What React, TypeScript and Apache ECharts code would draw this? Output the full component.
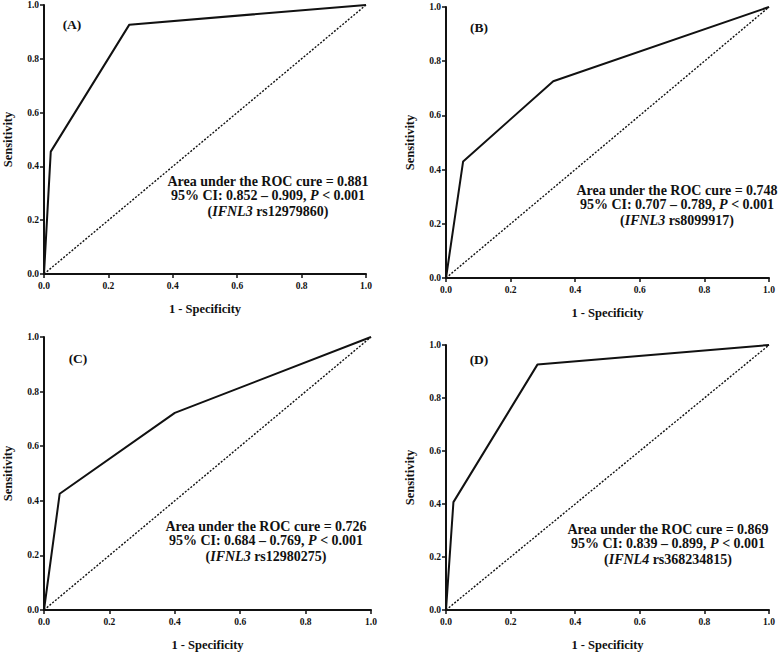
import React, { useEffect, useRef } from "react";
import * as echarts from "echarts";

const xTicks = [0, 0.2, 0.4, 0.6, 0.8, 1.0];
const panelLabels = ["(A)", "(B)", "(C)", "(D)"];
const rocA = [[0, 0], [0.021, 0.455], [0.265, 0.927], [1, 1]];
const rocB = [[0, 0], [0.053, 0.43], [0.332, 0.726], [1, 1]];
const rocC = [[0, 0], [0.048, 0.426], [0.4, 0.722], [1, 1]];
const rocD = [[0, 0], [0.023, 0.407], [0.283, 0.926], [1, 1]];
const diagonal = [[0, 0], [1, 1]];
const aucLines = [
  "Area under the ROC cure = 0.881",
  "Area under the ROC cure = 0.748",
  "Area under the ROC cure = 0.726",
  "Area under the ROC cure = 0.869",
];
const ciLines = [
  ["95% CI: 0.852 – 0.909, ", "P", " < 0.001"],
  ["95% CI: 0.707 – 0.789, ", "P", " < 0.001"],
  ["95% CI: 0.684 – 0.769, ", "P", " < 0.001"],
  ["95% CI: 0.839 – 0.899, ", "P", " < 0.001"],
];
const geneLines = [
  ["IFNL3", " rs12979860"],
  ["IFNL3", " rs8099917"],
  ["IFNL3", " rs12980275"],
  ["IFNL4", " rs368234815"],
];
const xName = "1 - Specificity";
const yName = "Sensitivity";

const FONT = "'Liberation Serif', 'DejaVu Serif', serif";

const grids = [
  { left: 43, top: 3, width: 323, height: 271 },
  { left: 446, top: 7, width: 323, height: 271 },
  { left: 44, top: 337, width: 327, height: 274 },
  { left: 446, top: 345, width: 323, height: 270 },
];
const labelPos = [
  [72, 24],
  [479, 27],
  [78, 358],
  [479, 359],
];
const annPos = [
  [268, 181],
  [677, 190],
  [266, 526],
  [668, 529],
];

export default function App() {
  const ref = useRef<HTMLDivElement>(null);
  useEffect(() => {
    if (!ref.current) return;
    const chart = echarts.init(ref.current, null, { renderer: "svg" });
    const rocs = [rocA, rocB, rocC, rocD];
    const xAxis: any[] = [];
    const yAxis: any[] = [];
    const series: any[] = [];
    const graphic: any[] = [];
    const axisCommon = {
      type: "value",
      min: 0,
      max: 1,
      interval: 0.2,
      splitLine: { show: false },
      axisLine: { show: true, onZero: false, lineStyle: { color: "#111", width: 2 } },
      axisTick: { show: true, inside: false, length: 4, lineStyle: { color: "#111", width: 1.5 } },
      axisLabel: {
        color: "#111",
        fontFamily: FONT,
        fontWeight: "bold",
        fontSize: 9.5,
        formatter: (v: number) => v.toFixed(1),
      },
      nameLocation: "middle",
      nameTextStyle: { color: "#111", fontFamily: FONT, fontWeight: "bold", fontSize: 12.5 },
    };
    grids.forEach((g, i) => {
      xAxis.push({
        ...axisCommon,
        gridIndex: i,
        name: xName,
        nameGap: 28,
        axisLabel: { ...axisCommon.axisLabel, margin: 7, customValues: xTicks },
      });
      yAxis.push({
        ...axisCommon,
        gridIndex: i,
        name: yName,
        nameGap: 30,
        axisLabel: { ...axisCommon.axisLabel, margin: 5 },
      });
      series.push({
        type: "line",
        xAxisIndex: i,
        yAxisIndex: i,
        data: diagonal,
        showSymbol: false,
        lineStyle: { color: "#111", width: 1.4, type: [2, 1.6] },
        z: 2,
      });
      series.push({
        type: "line",
        xAxisIndex: i,
        yAxisIndex: i,
        data: rocs[i],
        showSymbol: false,
        lineStyle: { color: "#111", width: 2 },
        z: 3,
      });
      graphic.push({
        type: "text",
        x: labelPos[i][0],
        y: labelPos[i][1],
        style: {
          text: panelLabels[i],
          fontFamily: FONT,
          fontWeight: "bold",
          fontSize: 13.5,
          fill: "#111",
          align: "center",
          verticalAlign: "middle",
        },
      });
      const [ax, ay] = annPos[i];
      const fs = 14;
      const base = { fontFamily: FONT, fontWeight: "bold", fontSize: fs, fill: "#111", align: "center", verticalAlign: "middle" };
      const rich = {
        n: { fontFamily: FONT, fontWeight: "bold", fontSize: fs, color: "#111" },
        i: { fontFamily: FONT, fontWeight: "bold", fontStyle: "italic", fontSize: fs, color: "#111" },
      };
      graphic.push({ type: "text", x: ax, y: ay, style: { ...base, text: aucLines[i] } });
      graphic.push({
        type: "text",
        x: ax,
        y: ay + 14,
        style: {
          ...base,
          text: `{n|${ciLines[i][0]}}{i|${ciLines[i][1]}}{n|${ciLines[i][2]}}`,
          rich,
        },
      });
      graphic.push({
        type: "text",
        x: ax,
        y: ay + 30,
        style: {
          ...base,
          text: `{n|(}{i|${geneLines[i][0]}}{n|${geneLines[i][1]})}`,
          rich,
        },
      });
    });
    chart.setOption({
      animation: false,
      backgroundColor: "#fff",
      grid: grids.map((g) => ({ ...g, containLabel: false })),
      xAxis,
      yAxis,
      series,
      graphic,
    });
    return () => chart.dispose();
  }, []);
  return (
    <div
      ref={ref}
      style={{ position: "absolute", left: 0, top: 0, width: 784, height: 652 }}
    />
  );
}
